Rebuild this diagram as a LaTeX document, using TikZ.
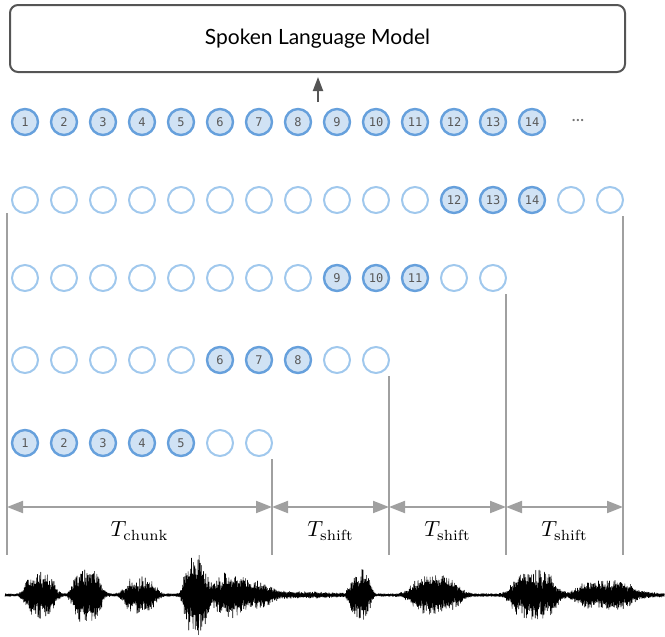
\documentclass[tikz,border=0pt]{standalone}
\usepackage{fontspec}
\usepackage{amsmath}
\newfontfamily\slmfont{Lato}
\newfontfamily\tokfont{DejaVu Sans Mono}
\usetikzlibrary{arrows.meta, positioning, calc}
\definecolor{tokblue}{RGB}{102,160,220}
\definecolor{tokfill}{RGB}{208,226,244}
\definecolor{slotblue}{RGB}{160,200,237}
\definecolor{bargray}{RGB}{160,160,160}
\definecolor{boxgray}{RGB}{85,85,85}

\begin{document}
\begin{tikzpicture}[x=0.5pt, y=-0.5pt,
  tok/.style={circle, draw=tokblue, fill=tokfill, line width=1.2pt,
              minimum size=13pt, inner sep=0pt, outer sep=0pt,
              font=\tokfont\fontsize{6}{7}\selectfont, text=black!65},
  slot/.style={circle, draw=slotblue, line width=1pt,
               minimum size=13pt, inner sep=0pt, outer sep=0pt},
  bar/.style={bargray, line width=1pt},
  dim/.style={bargray, line width=1pt,
              {Triangle[length=8pt, width=6pt]}-{Triangle[length=8pt, width=6pt]}},
  tlabel/.style={font=\fontsize{10.5}{12}\selectfont},
  declare function={
    bump(\x,\c,\w)=exp(-min(((\x-\c)/\w)*((\x-\c)/\w),12));
    flat(\x,\c,\w)=exp(-min(((\x-\c)/\w)*((\x-\c)/\w),4)*min(((\x-\c)/\w)*((\x-\c)/\w),4));
    env(\x)=1.5 + 2*bump(\x,300,40) + 2*bump(\x,630,30)
            + 22*flat(\x,40,16) + 28*flat(\x,87,15) + 17*flat(\x,140,17)
            + 37*flat(\x,195,12) + 22*bump(\x,230,22) + 8*bump(\x,262,15)
            + 24*flat(\x,360,11) + 18*flat(\x,435,26) + 24*flat(\x,534,24)
            + 13*flat(\x,604,30);
    flip(\k)=1-2*mod(round(\k),2);
  }]
\useasboundingbox (0,0) rectangle (665,637);

%% the language model on top
\node[draw=boxgray, line width=1pt, rounded corners=4pt,
      minimum width=307.5pt, minimum height=33.5pt,
      font=\slmfont\fontsize{10.5}{12}\selectfont] (slm)
  at (317.5, 38.5) {Spoken Language Model};
\coordinate (feed) at (318, 102);
\draw[boxgray, line width=1pt, -{Triangle[length=7pt, width=5pt]},
      shorten >=2pt] (feed) -- (feed |- slm.south);

%% token stream fed to the model
\foreach \i in {1,...,14}
  \node[tok] (t\i) at ({25+39*(\i-1)}, 122) {\i};
\node[font=\slmfont\fontsize{9}{10}\selectfont, text=black!55] (more)
  at (578, 121) {...};

%% one row per chunk: row / y / slots / first / last new token
\foreach \row/\y/\n/\a/\b in {1/200/16/12/14, 2/278/13/9/11,
                              3/360/10/6/8, 4/443/7/1/5} {
  \foreach \i in {1,...,\n} {
    \pgfmathtruncatemacro\isnew{(\i>=\a)&&(\i<=\b)}
    \ifnum\isnew=1
      \node[tok] (r\row c\i) at ({25+39*(\i-1)}, \y) {\i};
    \else
      \node[slot] (r\row c\i) at ({25+39*(\i-1)}, \y) {};
    \fi
  }
}

%% chunk boundaries
\coordinate (b0) at (7, 213);
\coordinate (b1) at ([yshift=-1.5pt]r4c7.south -| r4c7.east);
\coordinate (b2) at ([yshift=-1.5pt]r3c10.south -| r3c10.east);
\coordinate (b3) at ([yshift=-1.5pt]r2c13.south -| r2c13.east);
\coordinate (b4) at ([yshift=-1.5pt]r1c16.south -| r1c16.east);
\foreach \k in {0,...,4} {
  \coordinate (e\k) at (b\k |- 0,555);
  \coordinate (d\k) at (b\k |- 0,507);
  \draw[bar] (b\k) -- (e\k);
}

%% window lengths
\draw[dim] (d0) -- (d1);
\draw[dim] (d1) -- (d2);
\draw[dim] (d2) -- (d3);
\draw[dim] (d3) -- (d4);
\node[tlabel] (lchunk) at ($(d0)!0.5!(d1)+(0,24)$) {$T_{\mathrm{chunk}}$};
\node[tlabel] (lshift1) at ($(d1)!0.5!(d2)+(0,24)$) {$T_{\mathrm{shift}}$};
\node[tlabel] (lshift2) at ($(d2)!0.5!(d3)+(0,24)$) {$T_{\mathrm{shift}}$};
\node[tlabel] (lshift3) at ($(d3)!0.5!(d4)+(0,24)$) {$T_{\mathrm{shift}}$};

%% speech waveform
\pgfmathsetseed{11}
\draw[black, line width=0.3pt, line join=round] plot[domain=0:1199, samples=1200]
  ({5+0.55*\x}, {595 + env(5+0.55*\x)*(0.45+0.55*rnd)*flip(\x)});
\end{tikzpicture}
\end{document}
